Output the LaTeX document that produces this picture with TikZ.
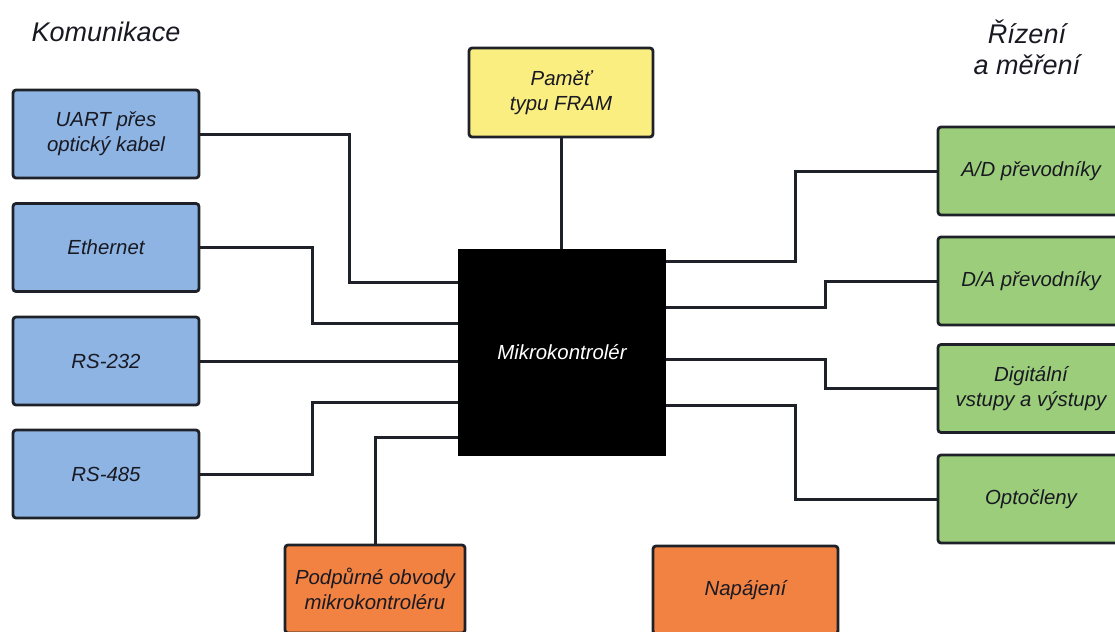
\documentclass[tikz,border=0pt]{standalone}
\usepackage{fontspec}
\setmainfont{Liberation Sans}

\definecolor{commblue}{RGB}{141,180,226}
\definecolor{ctrlgreen}{RGB}{155,205,122}
\definecolor{suporange}{RGB}{241,130,66}
\definecolor{memyellow}{RGB}{250,238,128}
\definecolor{boxline}{RGB}{30,34,40}
\definecolor{textdark}{RGB}{25,25,35}

\tikzset{
  block/.style={draw=boxline, line width=1.4pt, rounded corners=1.5pt,
    minimum width=93pt, minimum height=44pt, align=center, inner sep=1pt,
    text=textdark, font=\itshape\fontsize{10.2}{12.5}\selectfont},
  comm/.style={block, fill=commblue},
  ctrl/.style={block, fill=ctrlgreen},
  sup/.style={block, fill=suporange},
  mem/.style={block, fill=memyellow, minimum width=92pt, minimum height=44.5pt},
  title/.style={align=center, text=textdark,
    font=\itshape\fontsize{13.5}{15.5}\selectfont},
  wire/.style={line width=1.5pt, draw=boxline}
}

\begin{document}
\begin{tikzpicture}[x=0.5pt,y=-0.5pt]
\useasboundingbox (0,0) rectangle (1115,632);
\clip (0,0) rectangle (1115,632);

% group titles
\node[title] (tcomm) at (106,32) {Komunikace};
\node[title] (tctrl) at (1027,47) {Řízení\\a měření};

% microcontroller
\node[fill=black, minimum width=104pt, minimum height=103.5pt, inner sep=0pt,
  text=white, font=\itshape\fontsize{10.2}{12.5}\selectfont] (mcu) at (562,352.5) {Mikrokontrolér};

% memory
\node[mem] (fram) at (561,92.5) {Paměť\\typu FRAM};
\draw[wire] (fram.south) -- (fram.south |- mcu.north);

% communication
\node[comm] (uart) at (106,134) {UART přes\\optický kabel};
\node[comm] (eth)  at (106,247.5) {Ethernet};
\node[comm] (rs232) at (106,361) {RS-232};
\node[comm] (rs485) at (106,474) {RS-485};

\coordinate (l1) at (458,282);
\coordinate (l2) at (458,323);
\coordinate (l4) at (458,402);
\coordinate (l5) at (458,437);

\draw[wire] (uart.east) -| (349,282) -- (l1);
\draw[wire] (eth.east) -| (312,323) -- (l2);
\draw[wire] (rs232.east) -- (rs232.east -| mcu.west);
\draw[wire] (rs485.east) -| (312,402) -- (l4);

% control and measurement
\node[ctrl] (adc)  at (1031,171) {A/D převodníky};
\node[ctrl] (dac)  at (1031,281) {D/A převodníky};
\node[ctrl] (dio)  at (1031,388.5) {Digitální\\vstupy a výstupy};
\node[ctrl] (opto) at (1031,499) {Optočleny};

\coordinate (r1) at (666,261);
\coordinate (r2) at (666,307);
\coordinate (r3) at (666,359);
\coordinate (r4) at (666,405);

\draw[wire] (r1) -| (795,171) -- (adc.west);
\draw[wire] (r2) -| (825,281) -- (dac.west);
\draw[wire] (r3) -| (825,388.5) -- (dio.west);
\draw[wire] (r4) -| (795,499) -- (opto.west);

% support
\node[sup, minimum width=90pt] (pod) at (375,589) {Podpůrné obvody\\mikrokontroléru};
\node[sup, minimum width=92.5pt] (pwr) at (745.5,590) {Napájení};
\draw[wire] (l5) -| (pod.north);
\end{tikzpicture}
\end{document}
